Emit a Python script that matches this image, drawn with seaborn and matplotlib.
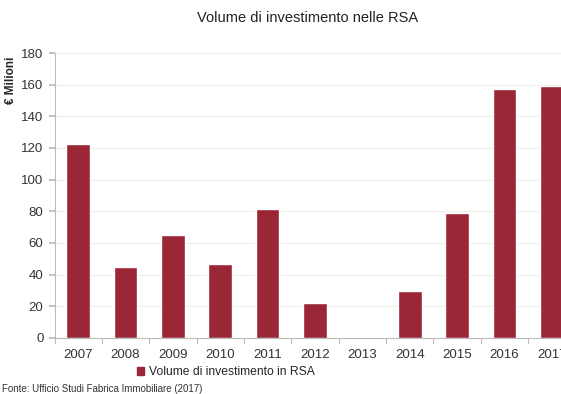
import matplotlib
matplotlib.use("Agg")
import matplotlib.pyplot as plt
import seaborn as sns
import pandas as pd
from matplotlib.patches import Patch

years = ["2007", "2008", "2009", "2010", "2011", "2012", "2013", "2014", "2015", "2016", "2017"]
volumes = [122.5, 45, 65, 47, 81.5, 22, 0, 29.7, 79, 157, 159]
series_name = "Volume di investimento in RSA"
y_ticks = [0, 20, 40, 60, 80, 100, 120, 140, 160, 180]

sns.set_theme(style="white")
plt.rcParams['font.family'] = ['Liberation Sans', 'DejaVu Sans']

df = pd.DataFrame({"Anno": years, "Volume": volumes, "Serie": series_name})

fig = plt.figure(figsize=(5.61, 3.94), dpi=100)
ax = fig.add_axes([54.5/561, 56/394, 521/561, 285/394])

color = "#9B2636"
sns.barplot(data=df, x="Anno", y="Volume", hue="Serie", palette=[color], width=0.5,
            ax=ax, legend=False, saturation=1)

ax.set_xlim(-0.5, 10.5)
ax.set_ylim(0, 180)
ax.set_yticks(y_ticks)
ax.set_yticklabels([str(t) for t in y_ticks], fontsize=9.5, color="#333333")
ax.set_xticks(range(len(years)))
ax.set_xticklabels(years, fontsize=9.5, color="#333333")
ax.tick_params(axis="x", length=0, pad=8)
ax.tick_params(axis="y", length=4, color="#bbbbbb", pad=4, left=True)
# boundary ticks between categories
for b in [i + 0.5 for i in range(-1, 11)]:
    ax.plot([b, b], [0, -3], color="#bbbbbb", lw=0.8, clip_on=False)
ax.grid(axis="y", color="#f0efe8", lw=0.8)
ax.set_axisbelow(True)
for s in ["top", "right"]:
    ax.spines[s].set_visible(False)
for s in ["left", "bottom"]:
    ax.spines[s].set_color("#bbbbbb")
    ax.spines[s].set_linewidth(0.8)
ax.set_xlabel("")
ax.set_ylabel("€ Milioni", fontsize=8.5, fontweight="bold")
ax.yaxis.set_label_coords(-0.072, 0.905)

fig.text(308/561, 1 - 18/394, "Volume di investimento nelle RSA", ha="center", va="center",
         fontsize=10.5, color="#222222")

fig.legend(handles=[Patch(color=color, label=series_name)], loc="center",
           bbox_to_anchor=(226/561, 1 - 372/394), frameon=False, fontsize=8.7,
           handlelength=0.6, handleheight=0.6, handletextpad=0.4)

fig.text(2/561, 1 - 389/394, "Fonte: Ufficio Studi Fabrica Immobiliare (2017)", ha="left", va="center",
         fontsize=7, color="#333333")

fig.savefig("out.png", dpi=100)
